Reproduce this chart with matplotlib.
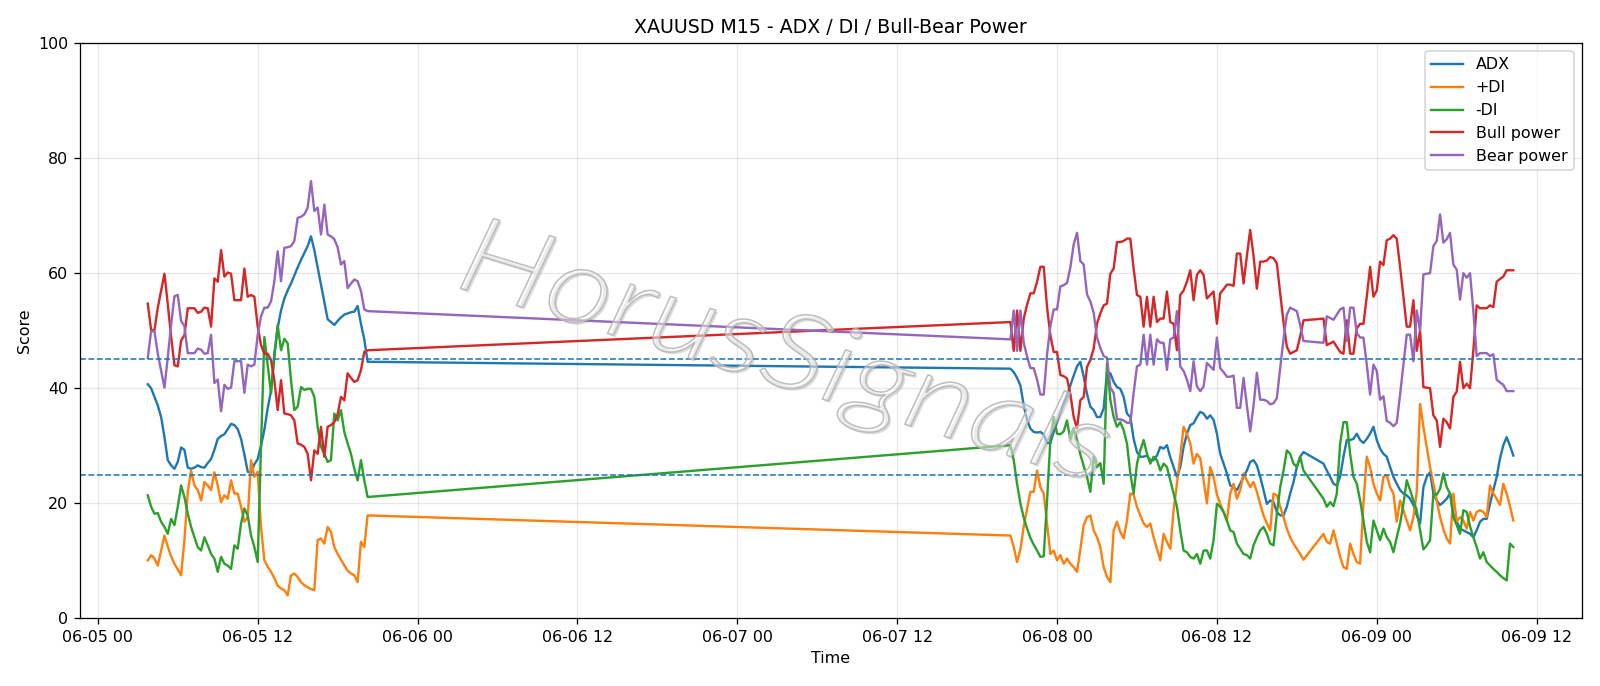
import matplotlib
matplotlib.use("Agg")
import matplotlib.pyplot as plt
import matplotlib.dates as mdates
import matplotlib.patheffects as pe
import matplotlib.transforms as mtransforms
from matplotlib.textpath import TextPath
from matplotlib.font_manager import FontProperties
from matplotlib.patches import PathPatch
import pandas as pd

# ---------------- data ----------------
# segment 1 : 2025-06-05 03:45 .. 20:15 (15 min bars)
adx_s1 = [40.7, 40, 38.5, 37, 35, 31.5, 27.5, 26.6, 26, 27.2,
          29.7, 29.3, 26.2, 26, 26.2, 26.6, 26.3, 26.2, 27, 27.7,
          29.3, 31.2, 31.7, 32, 32.9, 33.8, 33.6, 32.9, 31.2, 28.5,
          25.5, 25.3, 26.8, 27.7, 30, 32.8, 36.5, 39.6, 46, 50.5,
          53.5, 55.6, 57, 58.2, 59.6, 61, 62.3, 63.5, 64.7, 66.4,
          64, 61, 58, 55, 52, 51.5, 51, 51.7, 52.3, 52.8,
          53, 53.2, 53.3, 54.3, 51.2, 48.5, 44.6]
pdi_s1 = [10.1, 11, 10.4, 9.2, 11.8, 14.4, 12.5, 10.8, 9.5, 8.5,
          7.5, 13.6, 22, 25.7, 23.1, 22.3, 20.5, 23.7, 23.1, 22.3,
          25.4, 23.1, 20.2, 21.4, 20.8, 24, 21.7, 21.7, 19.4, 16.8,
          17.6, 27.5, 24.6, 25.5, 15.9, 10.1, 9, 8.1, 7, 5.7,
          5.2, 4.9, 4.0, 7.5, 7.8, 7.2, 6.3, 5.8, 5.4, 5.1,
          4.9, 13.6, 13.9, 13, 15.9, 15, 12.4, 11.2, 10.2, 9.2,
          8.3, 7.8, 7.5, 6.3, 13.3, 12.4, 17.9]
mdi_s1 = [21.4, 19.4, 18.2, 18.3, 16.8, 15.9, 14.7, 17.3, 16.2, 19.4,
          23.1, 21.1, 18.2, 15.9, 14.1, 12.4, 11.8, 14.1, 12.7, 11.2,
          10.4, 8.1, 10.7, 9.5, 9.2, 8.6, 12.7, 12.1, 16.5, 19.1,
          17.9, 14.4, 12.4, 9.8, 30, 48.9, 44, 39.1, 45.4, 51,
          46.6, 48.6, 47.8, 41.4, 36.2, 36.8, 40.2, 39.7, 39.9, 39.9,
          38.5, 33.3, 29.8, 28.6, 27.2, 27.5, 35.6, 34.4, 36.2, 32.4,
          30.4, 28.6, 26, 24, 27.5, 24, 21.1]
bull_s1 = [54.7, 50.1, 50.1, 54, 57, 59.9, 54.6, 49, 44, 43.8,
           48.3, 49.2, 53.9, 53.9, 53.9, 53.1, 53.3, 54, 53.9, 50.7,
           59.1, 58.5, 64, 59.4, 60.1, 59.9, 55.3, 55.3, 55.3, 60.8,
           55.9, 56.2, 55.9, 50.7, 47.5, 46, 46, 44.9, 41.4, 36.2,
           41.4, 35.6, 35.5, 35.3, 34.4, 30.4, 30.2, 29.8, 28.6, 24,
           29.2, 28.6, 33.3, 28.1, 33.3, 33.6, 34.1, 35.5, 38.5, 37.9,
           42.6, 41.8, 41.1, 41.4, 43.1, 46.3, 46.6]
bear_s1 = [45.3, 49.9, 49.9, 46, 43, 40.1, 45.4, 51, 56, 56.2,
           51.7, 50.8, 46.1, 46.1, 46.1, 46.9, 46.7, 46, 46.1, 49.3,
           40.9, 41.5, 36, 40.6, 39.9, 40.1, 44.7, 44.7, 44.7, 39.2,
           44.1, 43.8, 44.1, 49.3, 52.5, 54, 54, 55.1, 58.6, 63.8,
           58.6, 64.4, 64.5, 64.7, 65.6, 69.6, 69.8, 70.2, 71.4, 76,
           70.8, 71.4, 66.7, 71.9, 66.7, 66.4, 65.9, 64.5, 61.5, 62.1,
           57.4, 58.2, 58.9, 58.6, 56.9, 53.7, 53.4]

# segment 2a : 2025-06-07 20:30 .. 06-08 18:30
adx_s2a = [43.4, 42.8, 41.8, 40.5, 37, 34.5, 33, 32.4, 32.3, 32.4,
           32, 30.5, 30.5, 32.4, 34.2, 35.8, 37.4, 38.8, 40.5, 42.2,
           43.8, 44.6, 42, 39, 36.8, 36.2, 35, 35, 36.5, 42.8,
           42.6, 41.1, 40.2, 39.9, 38.5, 35.6, 35, 31.2, 28.9, 28.1,
           28.1, 28.3, 27.5, 27.5, 28.3, 29.8, 29.5, 30.1, 28, 26.3,
           24.6, 26.3, 29.8, 32.1, 33.6, 33.9, 35, 35.9, 35.6, 34.7,
           35.3, 34.5, 32.1, 28.6, 26.9, 25.2, 23.1, 22.8, 22.3, 23.4,
           24.6, 25.7, 27.2, 27.5, 26.6, 24.6, 22.3, 19.9, 20.5, 20.2,
           18.5, 17.9, 17.9, 19.4, 21.7, 23.7, 26.3, 28.1, 28.9]
pdi_s2a = [14.4, 12.4, 9.8, 12, 16, 19, 22, 22, 25.7, 22.8,
           21.7, 16.5, 11.2, 11.8, 10.1, 11, 9.5, 10.4, 9.5, 8.9,
           8.1, 12, 16.2, 17.6, 17.9, 15.3, 14.1, 12.4, 8.9, 7.2,
           6.3, 15.3, 16.8, 15, 13.9, 17, 21.7, 21.5, 19.4, 17.9,
           16.5, 15.9, 16.5, 14.1, 12.1, 10.1, 14.7, 13.3, 12.1, 18.8,
           23.5, 28.1, 33.3, 32.1, 30.4, 26.9, 28.6, 27.8, 24, 20,
           26.3, 24.6, 21.5, 19.9, 18.5, 17, 21.7, 23.4, 20.8, 22.3,
           25.2, 24, 22.8, 23.7, 22, 19.9, 17.9, 16.5, 15.3, 21.7,
           21.4, 19.4, 17.6, 15.6, 14.1, 13, 12.1, 11.2, 10.2]
mdi_s2a = [30.1, 27.5, 23.4, 20, 17.5, 15.6, 14, 12.8, 11.8, 10.7,
           10.8, 20.5, 31, 35, 32.1, 32, 32.5, 34.4, 31, 33,
           31, 28.5, 26.5, 24.6, 22, 28.1, 26.3, 27, 23.4, 44.3,
           38, 35, 33.3, 34.1, 32.7, 30.4, 25.2, 21.7, 26.9, 29.2,
           31, 28.6, 26.9, 28.1, 27.5, 25.7, 26.9, 26.3, 24, 21.7,
           19.4, 15.3, 11.8, 11.5, 10.7, 10.4, 11.2, 9.5, 11.8, 11.8,
           10.4, 13.6, 19.9, 19.4, 18.5, 17, 15.3, 15, 13, 12.1,
           11.2, 11, 10.4, 12.7, 14.1, 15.3, 15.9, 14.7, 13, 12.7,
           18.2, 22.8, 25.7, 29.2, 28.6, 26.9, 26.3, 28.1, 25.7]
bull_s2a = [51.5, 46.5, 53.5, 46.5, 52.1, 54.5, 56.5, 56.5, 58.5, 61.1,
            61.1, 54.1, 49.2, 46.3, 46.3, 42.3, 42.1, 41.7, 39, 35,
            33, 37.9, 38.5, 43.7, 44.9, 46.9, 51.2, 53, 54.4, 54.7,
            59.9, 60.8, 65.4, 65.4, 65.6, 66, 66, 60.8, 56.2, 55.9,
            50.7, 55.9, 50.7, 55.9, 51.5, 52.1, 52.1, 56.8, 51.5, 51.2,
            46.6, 56.2, 57, 58.5, 60.5, 55.3, 59.7, 60.5, 59.7, 55.6,
            56.2, 56.8, 51.2, 56.5, 57.2, 58, 58, 57.8, 63.4, 63.4,
            58.2, 63, 67.5, 63, 57.3, 62, 62, 62.2, 62.8, 62.6,
            61.7, 56.5, 51.5, 47.2, 46, 46.3, 46.6, 49, 51.8]
bear_s2a = [48.5, 53.5, 46.5, 53.5, 47.9, 45.5, 43.5, 43.5, 41.5, 38.9,
            38.9, 45.9, 50.8, 53.7, 53.7, 57.7, 57.9, 58.3, 61, 65,
            67, 62.1, 61.5, 56.3, 55.1, 53.1, 48.8, 47, 45.6, 45.3,
            40.1, 39.2, 34.6, 34.6, 34.4, 34, 34, 39.2, 43.8, 44.1,
            49.3, 44.1, 49.3, 44.1, 48.5, 47.9, 47.9, 43.2, 48.5, 48.8,
            53.4, 43.8, 43, 41.5, 39.5, 44.7, 40.3, 39.5, 40.3, 44.4,
            43.8, 43.2, 48.8, 43.5, 42.8, 42, 42, 42.2, 36.6, 36.6,
            41.8, 37, 32.5, 37, 42.7, 38, 38, 37.8, 37.2, 37.4,
            38.3, 43.5, 48.5, 52.8, 54, 53.7, 53.4, 51, 48.2]

# segment 2b : 2025-06-08 20:00 .. 06-09 10:15
adx_s2b = [26.9, 25.7, 24.6, 23.4, 23.1, 24.6, 28.1, 31, 31, 31.2,
           32.1, 31, 30.5, 31.2, 32.1, 33.3, 31, 29.5, 28.6, 28.1,
           26.3, 24.6, 23.4, 22.3, 21.7, 21.4, 20.8, 19.7, 17.9, 16.5,
           22.8, 24.6, 25.4, 21.7, 20.5, 19.7, 20.2, 20.8, 21.7, 18.2,
           16.8, 15.6, 15.3, 15, 14.7, 14.1, 15.3, 16.8, 17.3, 17.3,
           19.9, 22.3, 24.6, 27.8, 30.1, 31.5, 30, 28.3]
pdi_s2b = [14.7, 13.3, 13, 15.3, 13, 10.7, 8.9, 8.6, 13, 11.2,
           9.8, 9.5, 20, 28.1, 26.3, 23.4, 21.7, 20.5, 24.6, 24.9,
           22.8, 21.7, 16.8, 20.5, 18.8, 17, 15.3, 17.6, 22, 37.3,
           33.3, 29.8, 26.3, 23.4, 20.5, 17.6, 15.5, 13.9, 13, 21.7,
           16.8, 17.6, 17, 15.6, 18.5, 17, 18.5, 18.8, 18.5, 17.6,
           23.1, 21.7, 20.8, 19.7, 23.4, 21.7, 19.5, 17]
mdi_s2b = [20.8, 19.4, 20.2, 19.5, 21.7, 30.4, 34.1, 34.1, 28.6, 24.6,
           23.4, 20.5, 17, 13.3, 11.5, 17, 15.3, 13.6, 15.6, 14.1,
           13.3, 11.5, 14.1, 16.5, 19.9, 24, 22.3, 20.5, 18.8, 15.3,
           12, 12.7, 13.6, 21.7, 21.5, 22.5, 25.2, 22.8, 21.7, 17.6,
           16.2, 14.7, 18.8, 18.5, 16, 14.1, 12.4, 10.4, 11.5, 9.8,
           9.2, 8.6, 8.1, 7.5, 7, 6.6, 13, 12.4]
bull_s2b = [52.1, 47.5, 47.8, 48.1, 47.2, 46.3, 46, 51.8, 46, 46,
            50.4, 51.2, 51.2, 55.9, 61.1, 55.9, 57, 62, 61.4, 65.7,
            66, 66.6, 66, 61.1, 55.9, 50.7, 50.7, 55.3, 46.5, 50,
            40.2, 40.1, 40, 35.3, 34.4, 29.8, 34.7, 34.1, 33, 38.5,
            39.4, 44.6, 40, 40.8, 40, 46.6, 54.4, 53.9, 53.9, 53.9,
            54.4, 54.1, 58.5, 59, 59.4, 60.5, 60.5, 60.5]
bear_s2b = [47.9, 52.5, 52.2, 51.9, 52.8, 53.7, 54, 48.2, 54, 54,
            49.6, 48.8, 48.8, 44.1, 38.9, 44.1, 43, 38, 38.6, 34.3,
            34, 33.4, 34, 38.9, 44.1, 49.3, 49.3, 44.7, 53.5, 50,
            59.8, 59.9, 60, 64.7, 65.6, 70.2, 65.3, 65.9, 67, 61.5,
            60.6, 55.4, 60, 59.2, 60, 53.4, 45.6, 46.1, 46.1, 46.1,
            45.6, 45.9, 41.5, 41, 40.6, 39.5, 39.5, 39.5]

series_labels = ["ADX", "+DI", "-DI", "Bull power", "Bear power"]
levels = [25, 45]
watermark = "HorusSignals"

# ---------------- build ----------------
t1 = pd.date_range("2025-06-05 03:45", periods=len(adx_s1), freq="15min")
t2a = pd.date_range("2025-06-07 20:30", periods=len(adx_s2a), freq="15min")
t2b = pd.date_range("2025-06-08 20:00", periods=len(adx_s2b), freq="15min")
times = t1.append(t2a).append(t2b)

data = [adx_s1 + adx_s2a + adx_s2b,
        pdi_s1 + pdi_s2a + pdi_s2b,
        mdi_s1 + mdi_s2a + mdi_s2b,
        bull_s1 + bull_s2a + bull_s2b,
        bear_s1 + bear_s2a + bear_s2b]
colors = ["#1f77b4", "#ff7f0e", "#2ca02c", "#d62728", "#9467bd"]

DPI = 1600 / 14
fig = plt.figure(figsize=(14, 6.003), dpi=DPI)
ax = fig.add_axes([0.0497, 0.0985, 0.9388, 0.8388])

for vals, lab, col in zip(data, series_labels, colors):
    ax.plot(times, vals, label=lab, color=col, lw=1.5)

for lv in levels:
    ax.axhline(lv, ls="--", lw=1.0, color="#1f77b4")

ax.set_ylim(0, 100)
ax.set_title("XAUUSD M15 - ADX / DI / Bull-Bear Power", fontsize=12)
ax.set_xlabel("Time")
ax.set_ylabel("Score")
ax.grid(True, alpha=0.3)
ax.xaxis.set_major_locator(mdates.HourLocator(byhour=[0, 12]))
ax.xaxis.set_major_formatter(mdates.DateFormatter("%m-%d %H"))
ax.legend(loc="upper right")

# watermark (thin italic outline text, slightly widened, rotated)
fp = FontProperties(family=["Lato", "DejaVu Sans"], weight=300, style="italic")
tpath = TextPath((0, 0), watermark, size=1, prop=fp)
W, H = fig.bbox.width, fig.bbox.height
tr = (mtransforms.Affine2D().scale(129, 108).rotate_deg(-17)
      .translate(0.283 * W, 0.583 * H))
wm = PathPatch(tpath, transform=tr, facecolor=(1, 1, 1, 0.45),
               edgecolor=(0.72, 0.72, 0.72, 0.9), lw=1.0, zorder=10,
               path_effects=[pe.SimplePatchShadow(offset=(1.3, -1.3),
                                                  shadow_rgbFace=(0.5, 0.5, 0.5), alpha=0.28),
                             pe.Normal()])
fig.add_artist(wm)

fig.savefig("out.png", dpi=DPI)
